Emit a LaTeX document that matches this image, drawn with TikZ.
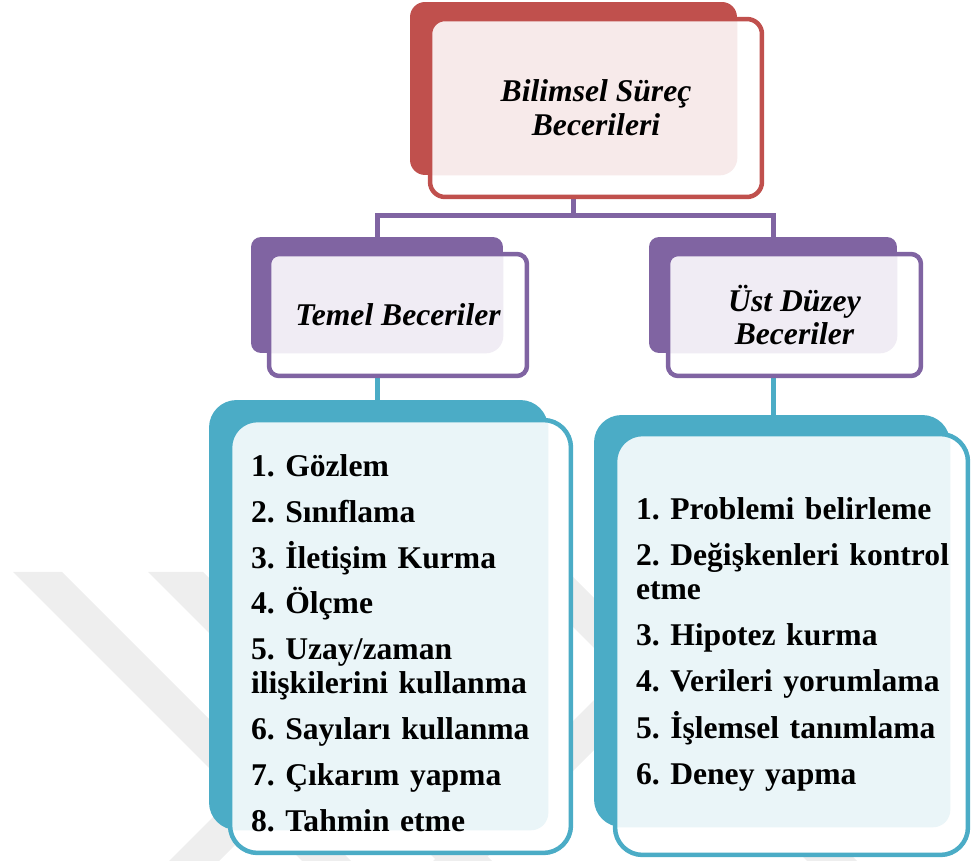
\documentclass[tikz,border=0pt]{standalone}
\usepackage{fontspec}
\setmainfont{Liberation Serif}

\definecolor{redc}{HTML}{C0504D}
\definecolor{purplec}{HTML}{8064A2}
\definecolor{tealc}{HTML}{4BACC6}
\definecolor{redpale}{HTML}{F7EAEA}
\definecolor{purplepale}{HTML}{F0ECF4}
\definecolor{tealpale}{HTML}{EAF5F8}
\definecolor{markgray}{HTML}{EEEEEE}

\newcommand{\headfont}{\fontsize{18}{19.3}\selectfont\bfseries\itshape\frenchspacing}
\newcommand{\listfont}{\fontsize{18}{19.3}\selectfont\bfseries\frenchspacing}

\begin{document}
\begin{tikzpicture}[x=0.02cm,y=-0.02cm,
    back/.style={inner sep=0pt,rounded corners=0.3cm},
    front/.style={draw,fill=white,line width=0.09cm,inner sep=0pt,rounded corners=0.3cm},
    pale fill/.style 2 args={path picture={
        \fill[#2,rounded corners=0.35cm] (#1.north west) rectangle (#1.south east);}},
    head box/.style={front,align=center,font=\headfont},
    list box/.style={front,rounded corners=0.55cm,align=left,font=\listfont,inner xsep=0.42cm},
    link/.style={line width=0.1cm}]
    \useasboundingbox (0,0) rectangle (971,861);

    % watermark
    \begin{scope}
    \clip (0,572) rectangle (971,861);
    \fill[markgray] (13,572) -- (62,572) -- (362,872) -- (313,872) -- cycle;
    \fill[markgray] (148,572) -- (203,572) -- (503,872) -- (448,872) -- cycle;
    \fill[markgray] (518,572) -- (568,572) -- (868,872) -- (818,872) -- cycle;
    \fill[markgray] (169,861) -- (219,861) -- (289,791) -- (239,791) -- cycle;
    \fill[markgray] (433,861) -- (483,861) -- (733,611) -- (683,611) -- cycle;
    \end{scope}

    % back shapes
    \node[back,fill=redc,minimum width=6.54cm,minimum height=3.46cm] (topback) at (573.5,88.5) {};
    \node[back,fill=purplec,rounded corners=0.2cm,minimum width=5.04cm,minimum height=2.32cm] (temelback) at (377,295) {};
    \node[back,fill=purplec,rounded corners=0.2cm,minimum width=4.96cm,minimum height=2.32cm] (ustback) at (773,295) {};
    \node[back,fill=tealc,rounded corners=0.55cm,minimum width=6.78cm,minimum height=8.6cm] (temellistback) at (378.5,615) {};
    \node[back,fill=tealc,rounded corners=0.55cm,minimum width=7.12cm,minimum height=8.24cm] (ustlistback) at (772,621) {};

    % connectors
    \draw[link,purplec] (topback.south) -- ++(0,40) -| (temelback.north);
    \draw[link,purplec] (topback.south) -- ++(0,40) -| (ustback.north);
    \draw[link,tealc] (temelback.south) -- (temelback.south |- temellistback.north);
    \draw[link,tealc] (ustback.south) -- (ustback.south |- ustlistback.north);

    % front boxes
    \node[head box,draw=redc,pale fill={topback}{redpale},minimum width=6.64cm,minimum height=3.56cm] (top) at (596,108) {Bilimsel Süreç\\Becerileri};
    \node[head box,draw=purplec,rounded corners=0.2cm,pale fill={temelback}{purplepale},minimum width=5.16cm,minimum height=2.44cm] (temel) at (398,315) {Temel Beceriler};
    \node[head box,draw=purplec,rounded corners=0.2cm,pale fill={ustback}{purplepale},minimum width=5.06cm,minimum height=2.44cm] (ust) at (794.5,315) {Üst Düzey\\Beceriler};

    \node[list box,draw=tealc,pale fill={temellistback}{tealpale},text width=5.98cm,minimum height=8.66cm] (temellist) at (400.5,636.5)
        {\rule{0pt}{20pt}1. Gözlem\\[6.8pt]
         2. Sınıflama\\[6.8pt]
         3. İletişim Kurma\\[6.8pt]
         4. Ölçme\\[6.8pt]
         5. Uzay/zaman\\ilişkilerini kullanma\\[6.8pt]
         6. Sayıları kullanma\\[6.8pt]
         7. Çıkarım yapma\\[6.8pt]
         8. Tahmin etme};
    \node[list box,draw=tealc,pale fill={ustlistback}{tealpale},text width=6.22cm,minimum height=8.42cm] (ustlist) at (791.5,644.5)
        {1. Problemi belirleme\\[6.8pt]
         \mbox{2. Değişkenleri kontrol}\\etme\\[6.8pt]
         3. Hipotez kurma\\[6.8pt]
         4. Verileri yorumlama\\[6.8pt]
         5. İşlemsel tanımlama\\[6.8pt]
         6. Deney yapma};
\end{tikzpicture}
\end{document}
